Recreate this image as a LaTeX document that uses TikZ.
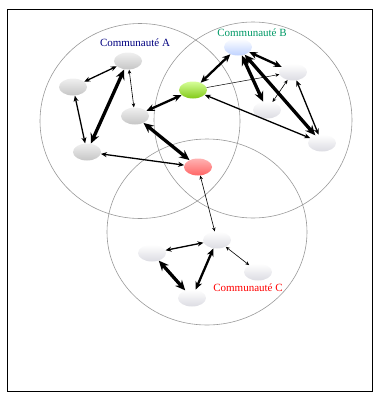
\documentclass[tikz,border=0pt]{standalone}
\usepackage{fontspec}
\setmainfont{Liberation Serif}
\usetikzlibrary{shapes.geometric,arrows.meta}
\begin{document}
\begin{tikzpicture}[x=1pt,y=-1pt,
  nd/.style={ellipse,minimum width=28pt,minimum height=17pt,inner sep=0pt},
  grey/.style={nd,top color=gray!12,bottom color=gray!45},
  pale/.style={nd,top color=white,bottom color=blue!10!gray!25},
  com/.style={ellipse,draw=gray!80,line width=0.6pt,inner sep=0pt},
  lbl/.style={font=\fontsize{11}{13}\selectfont},
  thin/.style={{Stealth[length=4pt,width=3.5pt]}-{Stealth[length=4pt,width=3.5pt]},line width=0.6pt},
  med/.style={{Stealth[length=6pt,width=5pt]}-{Stealth[length=6pt,width=5pt]},line width=1.3pt},
  thk/.style={{Stealth[length=8pt,width=7pt]}-{Stealth[length=8pt,width=7pt]},line width=2.3pt},
  vthk/.style={{Stealth[length=10pt,width=9pt]}-{Stealth[length=10pt,width=9pt]},line width=3.3pt}]
\useasboundingbox (0,0) rectangle (376,394);
\node[draw,line width=1pt,minimum width=365pt,minimum height=382pt,inner sep=0pt] (frame) at (189.5,200) {};
% communities
\node[com,minimum width=200pt,minimum height=195pt] (cA) at (140,121) {};
\node[com,minimum width=198pt,minimum height=196pt] (cB) at (253,120) {};
\node[com,minimum width=200pt,minimum height=186pt] (cC) at (207,232) {};
% labels
\node[lbl,text=blue!50!black] (lA) at (135,43) {Communauté A};
\node[lbl,text=teal!80!green] (lB) at (252,33) {Communauté B};
\node[lbl,text=red] (lC) at (248,288) {Communauté C};
% nodes A
\node[grey] (a1) at (128,61) {};
\node[grey] (a2) at (73,87) {};
\node[grey] (a3) at (135,116) {};
\node[grey] (a4) at (87,152) {};
% bridges
\node[nd,top color=green!40!yellow!40,bottom color=olive!60!green!70] (g) at (193,90) {};
\node[nd,top color=red!30,bottom color=red!60] (r) at (198,167) {};
% nodes B
\node[nd,top color=white,bottom color=cyan!30!blue!25] (b1) at (238,47) {};
\node[pale] (b2) at (293,72) {};
\node[pale] (b3) at (267,110) {};
\node[pale] (b4) at (322,143) {};
% nodes C
\node[pale] (c1) at (217,240) {};
\node[pale] (c2) at (152,253) {};
\node[pale] (c3) at (258,272) {};
\node[pale] (c4) at (192,298) {};
% edges A
\draw[med] (a1) -- (a2);
\draw[vthk] (a1) -- (a4);
\draw[thin] (a1) -- (a3);
\draw[med] (a2) -- (a4);
\draw[med] (a4) -- (r);
\draw[thk] (a3) -- (g);
\draw[vthk] (a3) -- (r);
% edges B
\draw[thk] (g) -- (b1);
\draw[med] (g) -- (b4);
\draw[line width=0.5pt,-{Stealth[length=4pt,width=3.5pt]}] (g) -- (b2);
\draw[thk] (b1) -- (b2);
\draw[vthk] (b1) -- (b3);
\draw[vthk] (b1) -- (b4);
\draw[med] (b2) -- (b4);
\draw[thin] (b3) -- (b2);
% edges C
\draw[thin] (r) -- (c1);
\draw[med] (c2) -- (c1);
\draw[thin] (c1) -- (c3);
\draw[thk] (c1) -- (c4);
\draw[vthk] (c2) -- (c4);
\end{tikzpicture}
\end{document}
